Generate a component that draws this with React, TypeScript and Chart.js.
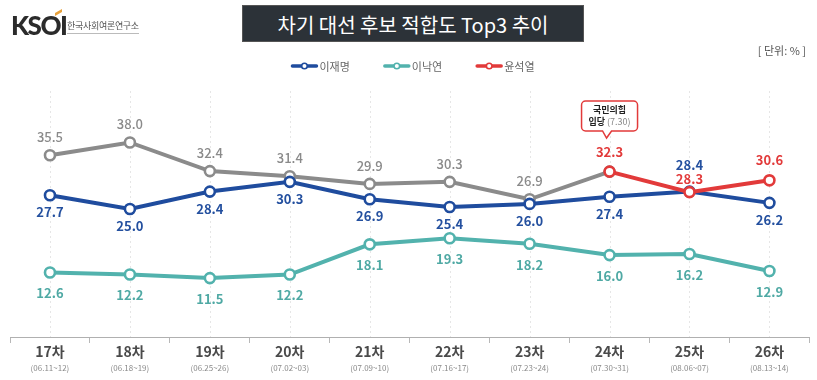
import React, { useEffect, useRef } from "react";
import { Chart, registerables } from "chart.js";

Chart.register(...registerables);

const rounds = ["17차", "18차", "19차", "20차", "21차", "22차", "23차", "24차", "25차", "26차"];
const dates = ["(06.11~12)", "(06.18~19)", "(06.25~26)", "(07.02~03)", "(07.09~10)", "(07.16~17)", "(07.23~24)", "(07.30~31)", "(08.06~07)", "(08.13~14)"];
const leeJaeMyung = [27.7, 25.0, 28.4, 30.3, 26.9, 25.4, 26.0, 27.4, 28.4, 26.2];
const leeNakYon = [12.6, 12.2, 11.5, 12.2, 18.1, 19.3, 18.2, 16.0, 16.2, 12.9];
const yoonBeforeJoin = [35.5, 38.0, 32.4, 31.4, 29.9, 30.3, 26.9, 32.3, null, null];
const yoonAfterJoin = [null, null, null, null, null, null, null, 32.3, 28.3, 30.6];
const legendNames = ["이재명", "이낙연", "윤석열"];
const titleText = "차기 대선 후보 적합도 Top3 추이";
const unitText = "[ 단위: % ]";
const calloutLine1 = "국민의힘";
const calloutLine2a = "입당";
const calloutLine2b = " (7.30)";
const calloutIndex = 7;

const BLUE = "#1f4c9e";
const TEAL = "#52b2ad";
const GRAY = "#8b8b8b";
const RED = "#e23a3a";
const KFONT = '"Noto Sans CJK KR", "Noto Sans", sans-serif';

export default function App() {
  const ref = useRef<HTMLCanvasElement | null>(null);

  useEffect(() => {
    if (!ref.current) return;

    const centerGrid = {
      id: "centerGrid",
      beforeDatasetsDraw(chart: any) {
        const { ctx, chartArea } = chart;
        const xs = chart.scales.x;
        ctx.save();
        ctx.strokeStyle = "#e6e6e6";
        ctx.lineWidth = 1;
        ctx.setLineDash([2, 3]);
        for (let i = 0; i < rounds.length; i++) {
          const x = Math.round(xs.getPixelForValue(i)) + 0.5;
          ctx.beginPath();
          ctx.moveTo(x, chartArea.top + 10);
          ctx.lineTo(x, chartArea.bottom);
          ctx.stroke();
        }
        ctx.restore();
      },
    };

    const xLabels = {
      id: "xLabels",
      afterDraw(chart: any) {
        const { ctx, chartArea } = chart;
        const xs = chart.scales.x;
        ctx.save();
        ctx.textAlign = "center";
        ctx.textBaseline = "middle";
        for (let i = 0; i < rounds.length; i++) {
          const x = xs.getPixelForValue(i);
          ctx.fillStyle = "#4a4a4a";
          ctx.font = `bold 14px ${KFONT}`;
          ctx.fillText(rounds[i], x, chartArea.bottom + 15);
          ctx.fillStyle = "#8a8a8a";
          ctx.font = `8px ${KFONT}`;
          ctx.fillText(dates[i], x, chartArea.bottom + 31);
        }
        ctx.restore();
      },
    };

    const legendDraw = {
      id: "legendDraw",
      afterDraw(chart: any) {
        const { ctx } = chart;
        const colors = [BLUE, TEAL, RED];
        ctx.save();
        ctx.font = `11px ${KFONT}`;
        const lineW = 26;
        const gap = 2;
        const spacing = 34;
        const widths = legendNames.map((n) => lineW + gap + ctx.measureText(n).width);
        const total = widths.reduce((a, b) => a + b, 0) + spacing * (legendNames.length - 1);
        let x = 413 - total / 2;
        const y = 66;
        for (let i = 0; i < legendNames.length; i++) {
          ctx.strokeStyle = colors[i];
          ctx.lineWidth = 3.5;
          ctx.lineCap = "round";
          ctx.beginPath();
          ctx.moveTo(x + 1, y);
          ctx.lineTo(x + lineW - 1, y);
          ctx.stroke();
          ctx.beginPath();
          ctx.arc(x + lineW / 2, y, 2.8, 0, Math.PI * 2);
          ctx.fillStyle = "#fff";
          ctx.fill();
          ctx.lineWidth = 1.6;
          ctx.stroke();
          ctx.fillStyle = "#666";
          ctx.textAlign = "left";
          ctx.textBaseline = "middle";
          ctx.fillText(legendNames[i], x + lineW + gap, y + 1);
          x += widths[i] + spacing;
        }
        ctx.restore();
      },
    };

    const dataLabels = {
      id: "dataLabels",
      afterDatasetsDraw(chart: any) {
        const { ctx } = chart;
        const xs = chart.scales.x;
        const ys = chart.scales.y;
        ctx.save();
        ctx.textAlign = "center";
        ctx.textBaseline = "middle";
        const draw = (vals: (number | null)[], color: string, weight: string, off: (i: number) => number, skip?: (i: number) => boolean) => {
          ctx.fillStyle = color;
          ctx.font = `${weight} 13px ${KFONT}`;
          vals.forEach((v, i) => {
            if (v === null || (skip && skip(i))) return;
            const x = xs.getPixelForValue(i);
            const y = ys.getPixelForValue(v);
            ctx.fillText(v.toFixed(1), x, y + off(i));
          });
        };
        draw(yoonBeforeJoin, "#8a8a8a", "500", () => -18, (i) => i === calloutIndex);
        draw(yoonAfterJoin, RED, "bold", (i) => (i === 8 ? -13 : -20));
        draw(leeJaeMyung, "#24509f", "bold", (i) => (i === 8 ? -27 : 17));
        draw(leeNakYon, "#4fa9a4", "bold", () => 21);
        ctx.restore();
      },
    };

    const callout = {
      id: "callout",
      afterDraw(chart: any) {
        const { ctx } = chart;
        const xs = chart.scales.x;
        const cx = xs.getPixelForValue(calloutIndex);
        const w = 56;
        const h = 30;
        const left = cx - w / 2;
        const top = 101;
        const r = 4;
        ctx.save();
        ctx.beginPath();
        ctx.moveTo(left + r, top);
        ctx.lineTo(left + w - r, top);
        ctx.arcTo(left + w, top, left + w, top + r, r);
        ctx.lineTo(left + w, top + h - r);
        ctx.arcTo(left + w, top + h, left + w - r, top + h, r);
        ctx.lineTo(cx + 2, top + h);
        ctx.lineTo(cx - 3, top + h + 7);
        ctx.lineTo(cx - 7, top + h);
        ctx.lineTo(left + r, top + h);
        ctx.arcTo(left, top + h, left, top + h - r, r);
        ctx.lineTo(left, top + r);
        ctx.arcTo(left, top, left + r, top, r);
        ctx.closePath();
        ctx.fillStyle = "#fff";
        ctx.fill();
        ctx.strokeStyle = RED;
        ctx.lineWidth = 1.5;
        ctx.stroke();
        ctx.textBaseline = "middle";
        ctx.textAlign = "center";
        ctx.fillStyle = "#222";
        ctx.font = `bold 9px ${KFONT}`;
        ctx.fillText(calloutLine1, cx, top + 9);
        const wa = ctx.measureText(calloutLine2a).width;
        ctx.font = `9px ${KFONT}`;
        const wb = ctx.measureText(calloutLine2b).width;
        const sx = cx - (wa + wb) / 2;
        ctx.textAlign = "left";
        ctx.font = `bold 9px ${KFONT}`;
        ctx.fillStyle = "#222";
        ctx.fillText(calloutLine2a, sx, top + 21);
        ctx.font = `9px ${KFONT}`;
        ctx.fillStyle = "#888";
        ctx.fillText(calloutLine2b, sx + wa, top + 21);
        ctx.restore();
      },
    };

    const pointStyle = (color: string) => ({
      borderColor: color,
      backgroundColor: color,
      pointBackgroundColor: "#fff",
      pointBorderColor: color,
      pointRadius: 5,
      pointBorderWidth: 2.6,
      borderWidth: 4,
      tension: 0,
      spanGaps: false,
    });

    const chart = new Chart(ref.current, {
      type: "line",
      data: {
        labels: rounds,
        datasets: [
          { label: legendNames[2], data: yoonAfterJoin, ...pointStyle(RED) },
          { label: legendNames[0], data: leeJaeMyung, ...pointStyle(BLUE) },
          { label: legendNames[1], data: leeNakYon, ...pointStyle(TEAL) },
          { label: "윤석열(입당 전)", data: yoonBeforeJoin, ...pointStyle(GRAY) },
        ] as any,
      },
      options: {
        responsive: false,
        animation: false,
        layout: { padding: { left: 10, right: 7, top: 81, bottom: 37 } },
        plugins: { legend: { display: false }, tooltip: { enabled: false }, title: { display: false } },
        scales: {
          x: {
            offset: true,
            ticks: { display: false },
            grid: { offset: true, drawOnChartArea: false, drawTicks: true, tickLength: 6, color: "#b8b8b8" },
            border: { display: true, color: "#b0b0b0", width: 1 },
          },
          y: { display: false, min: 0, max: 50 },
        },
      },
      plugins: [centerGrid, dataLabels, xLabels, legendDraw, callout],
    });

    return () => chart.destroy();
  }, []);

  return (
    <div style={{ position: "fixed", left: 0, top: 0, width: 817, height: 380, background: "#fff", overflow: "hidden" }}>
      <canvas ref={ref} width={817} height={380} style={{ position: "absolute", left: 0, top: 0 }} />
      <div style={{ position: "absolute", left: 11, top: 10, fontFamily: "Lato, sans-serif", fontWeight: 900, fontSize: 26, color: "#2b2b2b", letterSpacing: -1.5, lineHeight: "30px" }}>
        KSOI
      </div>
      <div style={{ position: "absolute", left: 55, top: 11, width: 7, height: 3, background: "#e8a13a", transform: "skewY(-30deg)" }} />
      <div style={{ position: "absolute", left: 67, top: 20, fontFamily: KFONT, fontSize: 9, color: "#555", borderBottom: "1px solid #bbb", paddingBottom: 1, lineHeight: "12px", letterSpacing: -0.3 }}>
        한국사회여론연구소
      </div>
      <div style={{ position: "absolute", left: 242, top: 5, width: 342, height: 37, background: "#2c3238", color: "#fff", fontFamily: KFONT, fontSize: 20, lineHeight: "37px", textAlign: "center", boxSizing: "border-box", border: "1px solid #555" }}>
        {titleText}
      </div>
      <div style={{ position: "absolute", right: 11, top: 42, fontFamily: KFONT, fontSize: 11, color: "#555" }}>
        {unitText}
      </div>
    </div>
  );
}
